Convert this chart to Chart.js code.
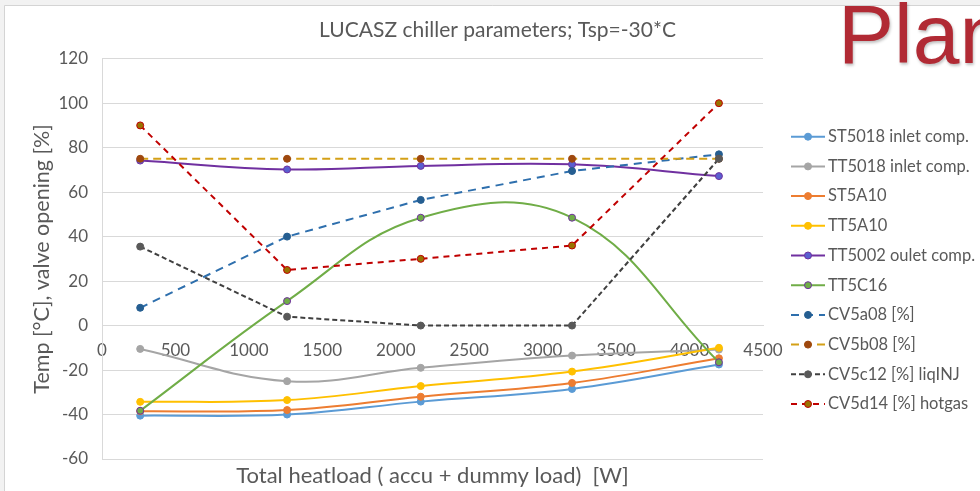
<!DOCTYPE html>
<html>
<head>
<meta charset="utf-8">
<title>LUCASZ chiller parameters</title>
<script src="https://cdn.jsdelivr.net/npm/chart.js@4"></script>
<style>
  html, body { margin: 0; padding: 0; background: #f2f2f2; overflow: hidden; }
  #wrap { position: relative; width: 980px; height: 491px; }
  #c { position: absolute; left: 0; top: 0; }
  #plan {
    position: absolute; left: 838px; top: -8px;
    font: 84px "Liberation Sans", Arial, sans-serif; line-height: 84px;
    color: #b12a34; white-space: nowrap;
    text-shadow: 1px 2px 3px rgba(0, 0, 0, 0.25);
  }
</style>
</head>
<body>
<div id="wrap">
  <canvas id="c" width="980" height="491"></canvas>
  <div id="plan">Plan</div>
</div>
<script>
// Total heatload (accu + dummy load) in W
const heatload = [260, 1260, 2170, 3200, 4200];

// Temperatures [°C]
const st5018 = [-40.5, -40, -34.2, -28.5, -17.5];
const tt5018 = [-10.5, -25, -19, -13.5, -10.8];
const st5a10 = [-38.5, -38, -32, -25.8, -14.7];
const tt5a10 = [-34.3, -33.5, -27.2, -20.7, -10];
const tt5002 = [74.2, 70.2, 71.8, 72.5, 67.2];
const tt5c16 = [-38.3, 11, 48.5, 48.5, -16.5];

// Valve openings [%]
const cv5a08 = [8, 40, 56.5, 69.5, 77];
const cv5b08 = [75, 75, 75, 75, 75];
const cv5c12 = [35.5, 4, 0, 0, 75];
const cv5d14 = [90, 25, 30, 36, 100];

// Axis ticks
const xTicks = [0, 500, 1000, 1500, 2000, 2500, 3000, 3500, 4000, 4500];
const yTicks = [-60, -40, -20, 0, 20, 40, 60, 80, 100, 120];

const TEXT = '#595959';
const GRID = '#d9d9d9';

const pts = (ys) => heatload.map((x, i) => ({ x, y: ys[i] }));

function series(label, ys, line, fill, edge, dash) {
  return {
    label,
    data: pts(ys),
    borderColor: line,
    borderWidth: 2,
    borderDash: dash || [],
    tension: dash ? 0 : 0.4,
    pointRadius: 3.5,
    pointBorderWidth: 1,
    pointBackgroundColor: fill,
    pointBorderColor: edge || fill,
    fill: false
  };
}

const datasets = [
  series('ST5018 inlet comp.', st5018, '#5b9bd5', '#5b9bd5'),
  series('TT5018 inlet comp.', tt5018, '#a5a5a5', '#a5a5a5'),
  series('ST5A10', st5a10, '#ed7d31', '#ed7d31'),
  series('TT5A10', tt5a10, '#ffc000', '#ffc000'),
  series('TT5002 oulet comp.', tt5002, '#7030a0', '#5a5fcf', '#7030a0'),
  series('TT5C16', tt5c16, '#70ad47', '#70ad47', '#7030a0'),
  series('CV5a08 [%]', cv5a08, '#2e6fad', '#255e91', '#255e91', [8, 6]),
  series('CV5b08 [%]', cv5b08, '#d4a017', '#9e480e', '#9e480e', [8, 5]),
  series('CV5c12 [%] liqINJ', cv5c12, '#404040', '#595959', '#595959', [5, 3]),
  series('CV5d14 [%] hotgas', cv5d14, '#c00000', '#997300', '#c00000', [6, 5])
];
// later series are painted on top
datasets.forEach((d, i) => { d.order = datasets.length - i; });

// white chart frame on the light slide background
const frame = {
  id: 'frame',
  beforeDraw(chart) {
    const { ctx, width, height } = chart;
    ctx.save();
    ctx.fillStyle = '#f2f2f2';
    ctx.fillRect(0, 0, width, height);
    ctx.fillStyle = '#ffffff';
    ctx.fillRect(5, 6, width - 5, height - 6);
    ctx.strokeStyle = '#d4d4d4';
    ctx.lineWidth = 1;
    ctx.beginPath();
    ctx.moveTo(4.5, height);
    ctx.lineTo(4.5, 5.5);
    ctx.lineTo(width, 5.5);
    ctx.stroke();
    ctx.restore();
  }
};

// legend on the right: line sample with its marker, then the series name
const sideLegend = {
  id: 'sideLegend',
  afterDraw(chart) {
    const { ctx, chartArea } = chart;
    const left = chartArea.right + 28;
    const len = 34;
    const top = chartArea.top + 78;
    const step = 29.7;
    ctx.save();
    ctx.font = '16.5px Lato';
    ctx.textBaseline = 'middle';
    chart.data.datasets.forEach((ds, i) => {
      const y = top + i * step;
      ctx.save();
      ctx.strokeStyle = ds.borderColor;
      ctx.lineWidth = ds.borderWidth;
      ctx.setLineDash(ds.borderDash);
      ctx.beginPath();
      ctx.moveTo(left, y);
      ctx.lineTo(left + len, y);
      ctx.stroke();
      ctx.setLineDash([]);
      ctx.beginPath();
      ctx.arc(left + len / 2, y, ds.pointRadius, 0, Math.PI * 2);
      ctx.fillStyle = ds.pointBackgroundColor;
      ctx.fill();
      ctx.lineWidth = ds.pointBorderWidth;
      ctx.strokeStyle = ds.pointBorderColor;
      ctx.stroke();
      ctx.restore();
      ctx.fillStyle = TEXT;
      ctx.fillText(ds.label, left + len + 3, y);
    });
    ctx.restore();
  }
};

Chart.defaults.font.family = 'Lato';
Chart.defaults.color = TEXT;

new Chart(document.getElementById('c'), {
  type: 'line',
  data: { datasets },
  plugins: [frame, sideLegend],
  options: {
    responsive: false,
    animation: false,
    events: [],
    layout: { padding: { left: 15, right: 0, top: 0, bottom: -2.4 } },
    plugins: {
      legend: { display: false },
      tooltip: { enabled: false },
      title: {
        display: true,
        text: 'LUCASZ chiller parameters; Tsp=-30*C',
        color: TEXT,
        font: { size: 21, weight: 'normal' },
        padding: { top: 18, bottom: 15.5 }
      },
      subtitle: {
        display: true,
        position: 'bottom',
        fullSize: false,
        text: 'Total heatload ( accu + dummy load)  [W]',
        color: TEXT,
        font: { size: 22, weight: 'normal' },
        padding: { top: 4, bottom: 4 }
      }
    },
    scales: {
      x: {
        type: 'linear',
        position: { y: 0 },
        min: 0,
        max: 4500,
        afterBuildTicks: (s) => { s.ticks = xTicks.map((v) => ({ value: v })); },
        grid: { display: false, drawTicks: false },
        border: { display: true, color: GRID, width: 1 },
        ticks: {
          font: { size: 17 }, color: TEXT, padding: 15, maxRotation: 0, autoSkip: false,
          callback: (v) => String(v)
        }
      },
      y: {
        type: 'linear',
        position: 'left',
        min: -60,
        max: 120,
        afterBuildTicks: (s) => { s.ticks = yTicks.map((v) => ({ value: v })); },
        grid: { color: GRID, drawTicks: false },
        border: { display: true, color: GRID, width: 1 },
        ticks: { font: { size: 17 }, color: TEXT, padding: 14, callback: (v) => String(v) },
        title: {
          display: true,
          text: 'Temp [°C], valve opening [%]',
          color: TEXT,
          font: { size: 21.5 },
          padding: { top: 14, bottom: 4 }
        },
        afterFit: (s) => { s.width = 87; }
      },
      legendSpace: {
        type: 'linear',
        position: 'right',
        min: 0,
        max: 1,
        grid: { display: false, drawOnChartArea: false },
        border: { display: false },
        ticks: { display: false },
        afterFit: (s) => { s.width = 217; }
      }
    }
  }
});
</script>
</body>
</html>
